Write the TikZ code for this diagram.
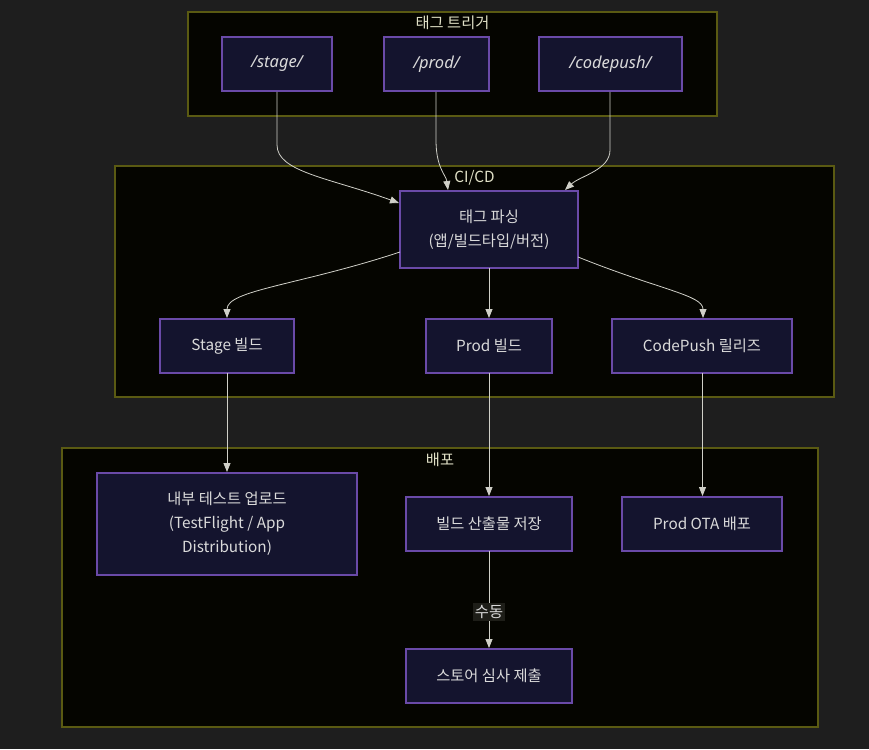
\documentclass[tikz,border=0pt]{standalone}
\usepackage{fontspec}
\setmainfont{Noto Sans CJK KR}
\newfontfamily\latinfont{Noto Sans}
\usetikzlibrary{arrows.meta}
\definecolor{bgc}{HTML}{1E1E1E}
\definecolor{clfill}{HTML}{050500}
\definecolor{clline}{HTML}{5A5A12}
\definecolor{ndfill}{HTML}{14142E}
\definecolor{ndline}{HTML}{6A4AA8}
\definecolor{txt}{HTML}{DADADA}
\definecolor{cltxt}{HTML}{E2E2C8}
\definecolor{edge}{HTML}{D0D0C8}
\definecolor{lblbg}{HTML}{1E1E18}
\tikzset{
  cluster/.style={draw=clline, fill=clfill, line width=1.2pt},
  box/.style={draw=ndline, fill=ndfill, line width=1.3pt},
  nodetext/.style={text=txt, font=\fontsize{15.3}{24}\selectfont, align=center},
  ittext/.style={text=txt, font=\fontsize{16.5}{20}\selectfont\latinfont\itshape},
  cltitle/.style={text=cltxt, font=\fontsize{15.3}{16}\selectfont},
  conn/.style={draw=edge, line width=0.8pt, -{Triangle[length=9pt,width=7pt]}},
}
\begin{document}
\begin{tikzpicture}[x=1pt,y=-1pt]
\fill[bgc] (0,0) rectangle (869,749);
\useasboundingbox (0,0) rectangle (869,749);
% clusters
\draw[cluster] (188,12) rectangle (717,116);
\node[cltitle] (t1) at (452.5,23) {태그 트리거};
\draw[cluster] (115,166) rectangle (834,397);
\node[cltitle] (t2) at (474.5,178) {CI/CD};
\draw[cluster] (62,448) rectangle (818,727);
\node[cltitle] (t3) at (440,460) {배포};
% nodes
\draw[box] (222,37) rectangle (332,91);
\node[ittext] (stage) at (277,64) {/stage/};
\draw[box] (384,37) rectangle (489,91);
\node[ittext] (prod) at (436.5,64) {/prod/};
\draw[box] (539,37) rectangle (682,91);
\node[ittext] (cp) at (610.5,64) {/codepush/};
\draw[box] (400,191) rectangle (578,268);
\node[nodetext] (parse) at (489,229.5) {태그 파싱\\(앱/빌드타입/버전)};
\draw[box] (160,319) rectangle (294,373);
\node[nodetext] (sb) at (227,346) {Stage 빌드};
\draw[box] (426,319) rectangle (552,373);
\node[nodetext] (pb) at (489,346) {Prod 빌드};
\draw[box] (612,319) rectangle (792,373);
\node[nodetext] (cr) at (702,346) {CodePush 릴리즈};
\draw[box] (97,473) rectangle (357,575);
\node[nodetext] (up) at (227,524) {내부 테스트 업로드\\(TestFlight / App\\Distribution)};
\draw[box] (406,497) rectangle (572,551);
\node[nodetext] (save) at (489,524) {빌드 산출물 저장};
\draw[box] (622,497) rectangle (782,551);
\node[nodetext] (ota) at (702,524) {Prod OTA 배포};
\draw[box] (406,649) rectangle (572,703);
\node[nodetext] (store) at (489,676) {스토어 심사 제출};
% anchors
\coordinate (s0) at (277,92);
\coordinate (p0) at (436,92);
\coordinate (c0) at (610,92);
\coordinate (pl) at (399,203);
\coordinate (pt) at (448,190);
\coordinate (pr) at (565,190);
% edges
\draw[conn] (s0) -- (277,145) .. controls (277,172) and (330,178) .. (pl);
\draw[conn] (p0) -- (436,140) .. controls (436,168) and (446,175) .. (pt);
\draw[conn] (c0) -- (610,150) .. controls (610,170) and (580,176) .. (pr);
\draw[conn] (400,252) .. controls (300,285) and (227,290) .. (227,318);
\draw[conn] (489,268) -- (489,318);
\draw[conn] (578,257) .. controls (660,290) and (703,295) .. (703,318);
\draw[conn] (227,373) -- (227,472);
\draw[conn] (489,373) -- (489,496);
\draw[conn] (702.5,373) -- (702.5,496);
\draw[conn] (489,551) -- (489,648);
\node[fill=lblbg, text=txt, font=\fontsize{15.3}{16}\selectfont, inner sep=2pt] (lbl) at (489,612) {수동};
\end{tikzpicture}
\end{document}
